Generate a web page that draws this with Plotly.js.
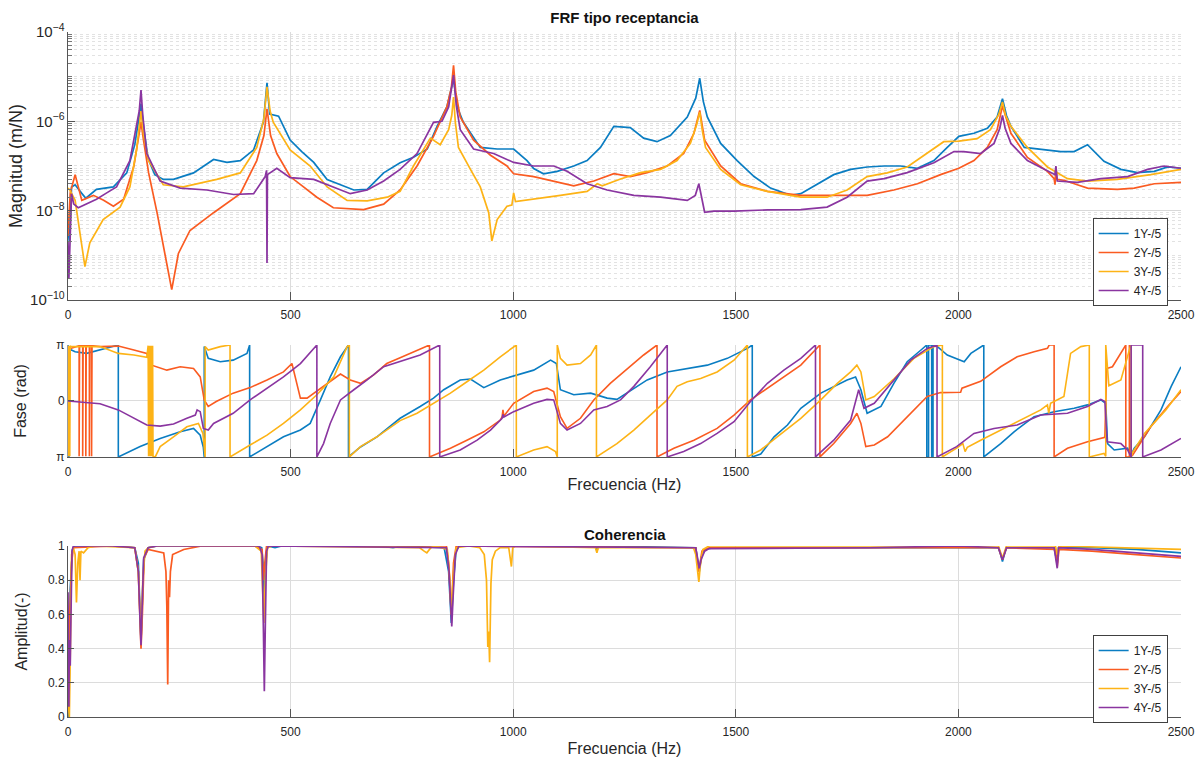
<!DOCTYPE html>
<html><head><meta charset="utf-8">
<script src="https://cdn.plot.ly/plotly-3.0.1.min.js"></script>
<style>html,body{margin:0;padding:0;background:#fff}#chart{width:1203px;height:758px}</style>
</head><body><div id="chart"></div>
<script>
const seriesNames = ['1Y-/5', '2Y-/5', '3Y-/5', '4Y-/5'];
const seriesColors = ['#0a7dc2', '#fa5b21', '#fdb316', '#8a35a0'];
const freqTicks = [0, 500, 1000, 1500, 2000, 2500];
const phaseTickVals = [-3.14159, 0, 3.14159];
const phaseTickText = ['π', '0', 'π'];
const cohTicks = [0, 0.2, 0.4, 0.6, 0.8, 1];

// Magnitude [Hz, m/N]
const mag1 = [[0,4e-9],[3,2e-9],[8,3.4e-8],[16,3.8e-8],[30,2.5e-8],[40,1.9e-8],[64,3e-8],[102,3.4e-8],[132,7e-8],[150,3e-7],[158,9.6e-7],[164,2.5e-6],[170,7.2e-7],[180,1.45e-7],[195,6.4e-8],[214,5e-8],[237,5e-8],[282,7e-8],[327,1.4e-7],[357,1.2e-7],[387,1.32e-7],[417,2.3e-7],[439,9.6e-7],[447,7.3e-6],[453,1.45e-6],[473,1.3e-6],[499,3.8e-7],[525,2.1e-7],[552,1.2e-7],[582,5e-8],[642,2.9e-8],[672,3e-8],[709,7e-8],[746,1.18e-7],[776,1.56e-7],[807,2.4e-7],[829,7.7e-7],[851,2.1e-6],[866,8.8e-6],[875,2e-6],[888,9.5e-7],[926,2.6e-7],[964,2.4e-7],[1001,2.4e-7],[1031,1.32e-7],[1046,8.8e-8],[1068,6.7e-8],[1099,7.6e-8],[1136,1e-7],[1166,1.32e-7],[1196,2.6e-7],[1226,7.7e-7],[1263,7.2e-7],[1293,4.2e-7],[1323,3.5e-7],[1353,4.8e-7],[1391,1.25e-6],[1410,3.3e-6],[1419,9.2e-6],[1427,2.8e-6],[1436,1.25e-6],[1466,3.2e-7],[1503,1.32e-7],[1541,5.8e-8],[1578,3.2e-8],[1623,2.2e-8],[1646,2.4e-8],[1683,4e-8],[1720,6.4e-8],[1758,8.4e-8],[1795,9.5e-8],[1833,1e-7],[1870,1e-7],[1908,8.9e-8],[1945,1.32e-7],[1975,2.6e-7],[2001,4.6e-7],[2035,5.4e-7],[2065,7e-7],[2087,1.25e-6],[2099,3.2e-6],[2108,1.35e-6],[2118,7.7e-7],[2148,2.6e-7],[2185,2.4e-7],[2230,2.1e-7],[2260,2.1e-7],[2290,3e-7],[2327,1.27e-7],[2365,8.4e-8],[2402,7.1e-8],[2440,7.6e-8],[2470,9.5e-8],[2500,8.9e-8]];
const mag2 = [[0,2.7e-9],[5,2.5e-8],[16,6.4e-8],[31,1.7e-8],[57,2.2e-8],[80,1.7e-8],[102,1.25e-8],[125,1.8e-8],[148,1e-7],[158,3.6e-7],[164,9.6e-7],[170,3.6e-7],[181,7.1e-8],[200,9e-9],[218,1.1e-9],[233,1.7e-10],[248,1.1e-9],[274,3.6e-9],[327,9e-9],[387,2.4e-8],[424,1.32e-7],[440,4.8e-7],[447,1.9e-6],[455,4.8e-7],[469,1.9e-7],[499,5.8e-8],[559,2e-8],[596,1.16e-8],[664,1.06e-8],[709,1.4e-8],[746,2.9e-8],[784,1e-7],[821,4.6e-7],[851,2.1e-6],[861,5.6e-6],[866,1.8e-5],[871,4.5e-6],[881,1.25e-6],[911,3.8e-7],[949,1.74e-7],[986,1e-7],[1001,6.7e-8],[1046,5.8e-8],[1091,4.6e-8],[1136,3.6e-8],[1181,4.6e-8],[1226,6.7e-8],[1263,5.8e-8],[1301,7.1e-8],[1346,1e-7],[1383,1.9e-7],[1406,5.4e-7],[1419,1.75e-6],[1430,3.8e-7],[1466,1e-7],[1511,4e-8],[1571,2.7e-8],[1646,2.2e-8],[1720,2.2e-8],[1795,2.2e-8],[1855,2.9e-8],[1908,4e-8],[1960,6.4e-8],[2001,8.9e-8],[2035,1.32e-7],[2065,2.6e-7],[2087,6.5e-7],[2099,2.2e-6],[2118,5.4e-7],[2155,1.56e-7],[2200,7.6e-8],[2215,5.2e-8],[2217,3.8e-8],[2219,9.5e-8],[2222,5e-8],[2237,4.8e-8],[2267,3.8e-8],[2290,3.2e-8],[2357,3e-8],[2395,3.2e-8],[2440,4e-8],[2500,4.3e-8]];
const mag3 = [[0,3.2e-8],[4,2.9e-8],[16,1.7e-8],[27,3.1e-9],[38,5.6e-10],[49,1.9e-9],[79,6.3e-9],[117,1.2e-8],[139,3.4e-8],[154,2.3e-7],[160,7.2e-7],[164,1.7e-6],[170,4.8e-7],[181,1.32e-7],[214,3.8e-8],[259,3.4e-8],[334,5e-8],[387,7e-8],[424,2.6e-7],[440,1.15e-6],[447,5.9e-6],[454,1.7e-6],[461,9.6e-7],[499,2.3e-7],[544,1e-7],[582,3.4e-8],[627,1.7e-8],[672,1.65e-8],[717,2e-8],[746,2.7e-8],[776,1e-7],[814,4.2e-7],[836,3e-7],[855,6.5e-7],[862,1.35e-6],[866,3.5e-6],[870,9.6e-7],[877,2.6e-7],[904,8.4e-8],[926,3.4e-8],[945,9e-9],[952,2.1e-9],[964,6.3e-9],[986,1.26e-8],[997,1.33e-8],[1001,2.5e-8],[1005,1.6e-8],[1046,1.8e-8],[1106,2.2e-8],[1166,2.7e-8],[1189,4e-8],[1200,3.6e-8],[1241,5.1e-8],[1286,7.1e-8],[1331,8.4e-8],[1368,1.32e-7],[1398,3.2e-7],[1412,8.4e-7],[1419,1.6e-6],[1425,6e-7],[1432,2.6e-7],[1466,8.4e-8],[1511,3.8e-8],[1571,2.7e-8],[1646,2e-8],[1705,2e-8],[1750,2.9e-8],[1795,5.8e-8],[1840,7e-8],[1885,9.5e-8],[1930,1.9e-7],[1967,3.5e-7],[2001,3.6e-7],[2042,4.1e-7],[2072,6.5e-7],[2091,1.45e-6],[2099,2.7e-6],[2106,1.35e-6],[2118,7.7e-7],[2155,2.6e-7],[2200,9.5e-8],[2245,5.2e-8],[2290,4.6e-8],[2357,5e-8],[2432,6.4e-8],[2500,8.4e-8]];
const mag4 = [[0,2.1e-9],[2,3.1e-10],[8,2.4e-8],[13,1.4e-8],[23,1.16e-8],[42,1.4e-8],[64,1.8e-8],[87,2.5e-8],[109,3.4e-8],[139,1.32e-7],[152,6e-7],[160,1.7e-6],[164,5e-6],[168,1.35e-6],[177,1.9e-7],[207,4.6e-8],[252,3.2e-8],[312,2.9e-8],[372,2.3e-8],[417,2.4e-8],[443,5.8e-8],[446,8e-8],[447,6.7e-10],[448,6.4e-8],[469,8.9e-8],[499,5.5e-8],[552,5e-8],[596,3.4e-8],[634,2.4e-8],[672,2.9e-8],[709,4.6e-8],[746,8.4e-8],[784,1.9e-7],[821,9.5e-7],[840,1e-6],[855,2.1e-6],[866,1.08e-5],[872,2.3e-6],[881,6.5e-7],[911,2.4e-7],[956,1.9e-7],[1001,1.2e-7],[1046,1e-7],[1091,1e-7],[1121,7.6e-8],[1166,4e-8],[1211,2.9e-8],[1271,2.2e-8],[1331,2e-8],[1391,1.7e-8],[1409,2.2e-8],[1417,4e-8],[1425,1.65e-8],[1430,9.2e-9],[1451,9.8e-9],[1496,9.8e-9],[1571,1.04e-8],[1646,1.05e-8],[1705,1.2e-8],[1750,2e-8],[1795,4.6e-8],[1833,5.2e-8],[1885,7.1e-8],[1945,1.18e-7],[1990,2.1e-7],[2012,2.1e-7],[2050,1.9e-7],[2080,3.2e-7],[2093,7e-7],[2099,1.35e-6],[2105,7e-7],[2118,3.2e-7],[2155,1.32e-7],[2200,7.6e-8],[2217,6.4e-8],[2219,1e-7],[2222,4.6e-8],[2267,4.3e-8],[2320,5.2e-8],[2380,5.8e-8],[2425,8.4e-8],[2462,1e-7],[2500,8.9e-8]];

// Phase [Hz, rad]
const phase1 = [[0,3.14],[2,-3.14],[4,2.9],[16,2.76],[42,2.67],[72,2.86],[113,3.14],[113,-3.14],[162,-2.56],[207,-2.10],[252,-1.73],[282,-1.54],[297,-1.92],[304,-2.6],[306,-3.14],[306,3.05],[315,2.39],[342,2.20],[371,2.29],[402,2.67],[408,3.14],[408,-3.14],[447,-2.56],[484,-2.01],[522,-1.63],[544,-1.26],[567,0.06],[589,1.35],[612,2.48],[630,3.14],[630,-3.14],[657,-2.58],[694,-2.01],[746,-0.97],[791,-0.31],[821,0.16],[844,0.63],[881,1.18],[904,1.23],[934,0.75],[971,1.18],[1009,1.45],[1046,1.73],[1084,2.29],[1097,2.10],[1106,0.63],[1136,0.35],[1174,0.44],[1211,0.16],[1233,0.09],[1271,0.72],[1301,1.18],[1346,1.63],[1391,1.82],[1436,2.01],[1481,2.39],[1526,2.95],[1537,3.14],[1537,-3.14],[1556,-2.98],[1586,-2.01],[1616,-1.35],[1646,-0.41],[1691,0.44],[1720,0.82],[1750,1.18],[1769,1.35],[1781,0.63],[1795,-0.69],[1826,-0.31],[1855,0.99],[1885,2.20],[1916,2.86],[1929,3.14],[1929,-3.14],[1933,-3.14],[1933,3.14],[1940,3.14],[1940,-3.14],[1943,-3.14],[1943,3.14],[1953,3.05],[1975,2.58],[2005,2.29],[2013,2.20],[2028,2.67],[2057,3.14],[2057,-3.14],[2095,-2.39],[2125,-1.73],[2170,-0.88],[2215,-0.60],[2260,-0.41],[2290,-0.22],[2320,0.06],[2331,-0.13],[2335,-2.39],[2350,-2.75],[2380,-2.65],[2388,-3.02],[2395,-2.65],[2418,-2.01],[2455,-0.50],[2478,0.82],[2500,1.92]];
const phase2 = [[0,2.9],[25,3.1],[25,-3.1],[26,3.1],[33,3.1],[33,-3.1],[34,3.1],[40,3.1],[40,-3.1],[41,3.1],[48,3.1],[48,-3.1],[49,3.1],[53,3.1],[53,-3.1],[54,3.1],[72,3.05],[113,3.08],[148,2.86],[177,2.67],[188,2.01],[222,1.73],[252,1.92],[282,1.82],[297,1.35],[306,0.06],[315,-0.31],[333,-0.03],[371,0.44],[409,0.75],[447,1.18],[484,1.63],[503,2.10],[510,1.35],[522,0.16],[537,0.16],[567,0.72],[597,1.26],[612,1.51],[634,1.18],[657,0.99],[686,1.45],[716,2.10],[746,2.42],[784,2.86],[812,3.14],[812,-3.14],[859,-2.65],[896,-2.20],[934,-1.73],[971,-1.07],[975,-0.9],[977,-0.5],[979,-0.85],[1001,-0.13],[1046,0.53],[1076,0.72],[1091,0.53],[1106,-0.88],[1121,-1.54],[1151,-0.97],[1181,0.06],[1218,0.99],[1256,1.82],[1293,2.58],[1323,3.14],[1323,-3.14],[1361,-2.65],[1406,-2.20],[1458,-1.54],[1496,-0.79],[1533,0.06],[1571,0.72],[1608,1.35],[1646,2.01],[1689,3.14],[1689,-3.14],[1720,-2.39],[1758,-1.26],[1772,-0.69],[1781,-1.26],[1792,-2.56],[1811,-2.47],[1841,-2.01],[1885,-0.88],[1930,0.25],[1960,0.47],[2005,0.49],[2008,0.72],[2050,1.10],[2095,1.92],[2132,2.48],[2170,2.76],[2200,2.95],[2204,3.14],[2215,3.14],[2215,-3.14],[2245,-2.65],[2290,-2.29],[2329,-2.04],[2333,1.82],[2346,1.92],[2376,3.14],[2376,-3.14],[2384,-3.14],[2384,3.14],[2385,-3.14],[2391,-3.05],[2432,-1.45],[2470,-0.31],[2500,0.53]];
const phase3 = [[0,-3.1],[1,3.1],[2,-3.1],[3,3.1],[4,-3.1],[5,3.1],[6,3.05],[72,3.05],[113,2.67],[148,2.58],[177,2.45],[180,3.1],[181,-3.1],[182,3.1],[183,-3.1],[184,3.1],[185,-3.1],[186,3.1],[187,-3.1],[188,3.1],[189,-3.1],[190,3.1],[191,-3.1],[196,-3.14],[207,-2.56],[237,-2.01],[267,-1.45],[293,-1.26],[303,-1.82],[308,-3.14],[308,3.05],[315,2.86],[342,3.05],[364,3.14],[364,-3.14],[409,-2.47],[447,-1.92],[484,-1.26],[522,-0.50],[559,0.35],[597,1.35],[627,3.05],[632,3.14],[632,-3.14],[657,-2.56],[694,-2.01],[746,-1.10],[784,-0.69],[821,-0.13],[859,0.44],[896,1.08],[934,1.73],[971,2.48],[1007,3.14],[1007,-3.14],[1046,-2.75],[1076,-2.56],[1095,-2.84],[1099,-3.14],[1099,3.14],[1106,2.39],[1121,2.01],[1151,2.10],[1174,2.58],[1187,3.14],[1187,-3.14],[1233,-2.39],[1271,-1.63],[1308,-0.79],[1346,0.06],[1368,0.82],[1391,1.08],[1421,1.26],[1458,1.63],[1496,2.29],[1526,3.14],[1526,-3.14],[1556,-2.75],[1593,-2.01],[1646,-0.97],[1691,0.06],[1728,0.99],[1758,1.63],[1772,2.01],[1781,1.63],[1792,0.06],[1811,0.25],[1856,1.26],[1900,2.39],[1945,3.05],[1964,3.14],[1964,-3.14],[1996,-2.65],[2010,-2.39],[2015,-2.84],[2020,-2.6],[2050,-2.20],[2095,-1.63],[2140,-1.07],[2185,-0.50],[2200,-0.22],[2203,-0.69],[2207,-0.13],[2237,0.25],[2245,1.54],[2252,2.67],[2275,3.05],[2294,3.14],[2294,-3.14],[2327,-2.94],[2331,-3.1],[2331,3.14],[2338,0.85],[2365,1.18],[2384,2.86],[2388,3.14],[2388,-3.14],[2391,-2.9],[2418,-1.82],[2466,-0.50],[2500,0.63]];
const phase4 = [[0,0],[42,-0.09],[72,-0.16],[113,-0.50],[148,-0.97],[177,-1.35],[207,-1.41],[237,-1.29],[267,-0.97],[286,-0.79],[290,-0.50],[297,-0.60],[304,-1.54],[315,-1.63],[327,-1.26],[371,-0.69],[409,0.06],[447,0.72],[484,1.35],[522,2.10],[555,3.05],[559,3.14],[559,-3.14],[574,-2.39],[589,-1.26],[612,0.06],[642,0.63],[672,1.18],[709,1.92],[746,2.20],[791,2.58],[835,3.14],[835,-3.14],[881,-2.75],[919,-2.20],[949,-1.63],[975,-0.97],[977,-0.75],[979,-0.9],[1001,-0.60],[1046,-0.13],[1076,0.09],[1091,0.06],[1106,-1.26],[1121,-1.63],[1151,-1.26],[1181,-0.50],[1211,-0.31],[1241,0.06],[1271,0.82],[1308,1.92],[1346,3.14],[1346,-3.14],[1383,-2.84],[1421,-2.39],[1458,-1.82],[1496,-1.16],[1533,-0.03],[1571,0.99],[1608,1.73],[1646,2.39],[1679,3.14],[1679,-3.14],[1720,-2.20],[1758,-1.07],[1776,0.63],[1788,-0.41],[1811,-0.13],[1856,1.18],[1893,2.29],[1930,2.95],[1952,3.14],[1952,-3.14],[1996,-2.56],[2035,-1.82],[2080,-1.54],[2132,-1.35],[2185,-0.79],[2245,-0.69],[2290,-0.31],[2320,0.09],[2329,-0.03],[2334,-2.29],[2365,-2.39],[2380,-2.75],[2388,-3.14],[2388,3.14],[2410,3.14],[2414,3.14],[2414,-3.14],[2455,-2.75],[2500,-2.10]];

// Coherence [Hz, -]
const coh1 = [[0,0.02],[2,0],[5,0.75],[10,0.98],[15,1.0],[100,1.0],[150,0.99],[158,0.9],[162,0.6],[164,0.45],[166,0.6],[170,0.92],[180,0.99],[200,1.0],[420,1.0],[435,0.99],[438,0.9],[441,0.7],[444,0.9],[448,1.0],[465,0.99],[480,1.0],[700,1.0],[730,0.99],[750,1.0],[845,0.99],[855,0.85],[861,0.55],[866,0.8],[872,0.98],[880,1.0],[1185,1.0],[1188,0.97],[1191,1.0],[1410,0.99],[1415,0.9],[1418,0.85],[1422,0.93],[1430,0.98],[1450,0.99],[2090,0.99],[2095,0.95],[2099,0.91],[2103,0.95],[2108,0.99],[2215,0.99],[2220,0.92],[2222,0.9],[2225,0.99],[2300,0.99],[2400,0.98],[2500,0.96]];
const coh2 = [[0,0.3],[2,0.05],[4,0.6],[8,0.9],[12,0.99],[100,1.0],[150,0.99],[158,0.85],[162,0.55],[164,0.40],[167,0.6],[171,0.93],[180,0.98],[200,0.97],[215,0.96],[220,0.85],[222,0.65],[224,0.19],[226,0.8],[228,0.7],[230,0.85],[235,0.95],[260,0.98],[300,1.0],[420,1.0],[436,0.98],[439,0.8],[442,0.9],[446,1.0],[850,1.0],[855,0.9],[861,0.6],[866,0.9],[872,1.0],[1410,0.99],[1417,0.85],[1424,0.97],[1440,0.99],[2090,0.99],[2099,0.92],[2108,0.99],[2218,0.98],[2222,0.88],[2226,0.98],[2300,0.97],[2400,0.95],[2500,0.93]];
const coh3 = [[0,0.1],[3,0.0],[5,0.35],[8,0.95],[12,0.99],[16,0.95],[19,0.67],[22,0.9],[25,0.97],[27,0.8],[29,0.97],[35,0.96],[45,0.99],[60,1.0],[150,0.99],[158,0.85],[164,0.45],[168,0.8],[173,0.97],[180,0.99],[200,1.0],[420,1.0],[434,0.97],[438,0.7],[440,0.55],[443,0.8],[448,0.99],[460,1.0],[790,0.99],[800,0.97],[806,0.96],[815,0.99],[825,1.0],[852,0.98],[858,0.8],[861,0.6],[866,0.85],[872,0.99],[900,1.0],[925,0.99],[935,0.95],[940,0.8],[943,0.41],[945,0.5],[947,0.32],[950,0.78],[953,0.92],[960,0.97],[970,0.99],[990,0.99],[994,0.9],[996,0.88],[999,0.99],[1005,1.0],[1185,0.99],[1188,0.96],[1191,0.99],[1405,0.99],[1410,0.95],[1414,0.85],[1417,0.79],[1420,0.88],[1426,0.98],[1440,1.0],[2090,1.0],[2099,0.93],[2108,1.0],[2218,1.0],[2222,0.95],[2226,1.0],[2500,0.98]];
const coh4 = [[0,0.73],[1,0.3],[2,0.06],[3,0.45],[5,0.3],[7,0.65],[9,0.97],[12,1.0],[100,1.0],[150,0.99],[158,0.85],[162,0.55],[164,0.42],[166,0.6],[170,0.93],[180,0.99],[200,1.0],[430,1.0],[436,0.95],[439,0.5],[441,0.15],[443,0.5],[446,0.97],[450,1.0],[850,0.99],[856,0.85],[860,0.6],[862,0.53],[865,0.7],[870,0.95],[878,1.0],[1410,0.99],[1414,0.93],[1418,0.87],[1422,0.92],[1430,0.97],[1440,0.985],[1800,0.99],[2000,1.0],[2090,0.99],[2095,0.95],[2099,0.92],[2103,0.95],[2108,0.99],[2215,0.99],[2219,0.9],[2222,0.87],[2225,0.99],[2300,0.98],[2400,0.96],[2500,0.94]];

const magData = [mag1, mag2, mag3, mag4];
const phaseData = [phase1, phase2, phase3, phase4];
const cohData = [coh1, coh2, coh3, coh4];

const FONT = 'Liberation Sans, Arial, sans-serif';
const xs = d => d.map(p => p[0]);
const ys = d => d.map(p => p[1]);

const traces = [];
for (let i = 0; i < 4; i++) {
  traces.push({x: xs(magData[i]), y: ys(magData[i]), type: 'scatter', mode: 'lines', name: seriesNames[i],
    line: {color: seriesColors[i], width: 1.7}, xaxis: 'x', yaxis: 'y', legend: 'legend'});
}
for (let i = 0; i < 4; i++) {
  traces.push({x: xs(phaseData[i]), y: ys(phaseData[i]), type: 'scatter', mode: 'lines', name: seriesNames[i],
    line: {color: seriesColors[i], width: 1.6}, xaxis: 'x2', yaxis: 'y2', showlegend: false});
}
for (let i = 0; i < 4; i++) {
  traces.push({x: xs(cohData[i]), y: ys(cohData[i]), type: 'scatter', mode: 'lines', name: seriesNames[i],
    line: {color: seriesColors[i], width: 1.7}, xaxis: 'x3', yaxis: 'y3', legend: 'legend2'});
}

const tickFont = {family: FONT, size: 12, color: '#262626'};
const titleFont = {family: FONT, size: 16, color: '#262626'};
function xAxis(anchor, titleText, standoff) {
  const ax = {anchor: anchor, range: [0, 2500], tickvals: freqTicks, ticks: 'inside', ticklen: 8, tickcolor: '#555',
    showline: true, linecolor: '#555', linewidth: 1, showgrid: true, gridcolor: '#dcdcdc', zeroline: false,
    tickfont: tickFont, ticklabelstandoff: 4};
  if (titleText) ax.title = {text: titleText, font: titleFont, standoff: standoff};
  return ax;
}
const legendBase = {xanchor: 'right', yanchor: 'top', x: 0.988, bordercolor: '#404040', borderwidth: 1,
  bgcolor: '#ffffff', font: {family: FONT, size: 12, color: '#222'}, tracegroupgap: 0};

const layout = {
  width: 1203, height: 758,
  margin: {l: 68, r: 22, t: 32, b: 41},
  paper_bgcolor: '#ffffff', plot_bgcolor: '#ffffff',
  font: {family: FONT, color: '#262626'},
  title: {text: '<b>FRF tipo receptancia</b>', x: 0.5, xref: 'paper', y: 0.9763, yref: 'container', yanchor: 'middle',
    font: {family: FONT, size: 15, color: '#111'}},
  xaxis: xAxis('y', null, 0),
  xaxis2: xAxis('y2', 'Frecuencia (Hz)', 0),
  xaxis3: xAxis('y3', 'Frecuencia (Hz)', 4),
  yaxis: {domain: [0.6088, 1], type: 'log', range: [-10, -4], dtick: 2, exponentformat: 'power', showexponent: 'all',
    ticks: 'inside', ticklen: 7, tickcolor: '#555', showline: true, linecolor: '#555', zeroline: false,
    showgrid: true, gridcolor: '#d8d8d8', tickfont: tickFont, automargin: true,
    title: {text: 'Magnitud (m/N)', font: {family: FONT, size: 18, color: '#262626'}, standoff: 2},
    minor: {dtick: 'D1', showgrid: true, gridcolor: '#e2e2e2', griddash: 'dot', ticks: 'inside', ticklen: 4, tickcolor: '#777'}},
  yaxis2: {domain: [0.3796, 0.5431], range: [-3.14159, 3.14159], tickvals: phaseTickVals, ticktext: phaseTickText,
    ticks: 'inside', ticklen: 6, tickcolor: '#555', showline: true, linecolor: '#999', zeroline: false,
    showgrid: true, gridcolor: '#dcdcdc', tickfont: tickFont,
    title: {text: 'Fase (rad)', font: titleFont, standoff: 25}},
  yaxis3: {domain: [0, 0.2496], range: [0, 1], tickvals: cohTicks, ticks: 'inside', ticklen: 6, tickcolor: '#555',
    showline: true, linecolor: '#555', zeroline: false, showgrid: true, gridcolor: '#dcdcdc', tickfont: tickFont,
    title: {text: 'Amplitud(-)', font: titleFont, standoff: 16}},
  legend: Object.assign({}, legendBase, {y: 0.7285}),
  legend2: Object.assign({}, legendBase, {y: 0.1197}),
  annotations: [
    {text: '<b>Coherencia</b>', xref: 'paper', yref: 'paper', x: 0.5, y: 0.2657, xanchor: 'center', yanchor: 'middle',
      showarrow: false, font: {family: FONT, size: 15, color: '#111'}}
  ]
};

Plotly.newPlot('chart', traces, layout, {staticPlot: true, displayModeBar: false});
</script>
</body></html>
